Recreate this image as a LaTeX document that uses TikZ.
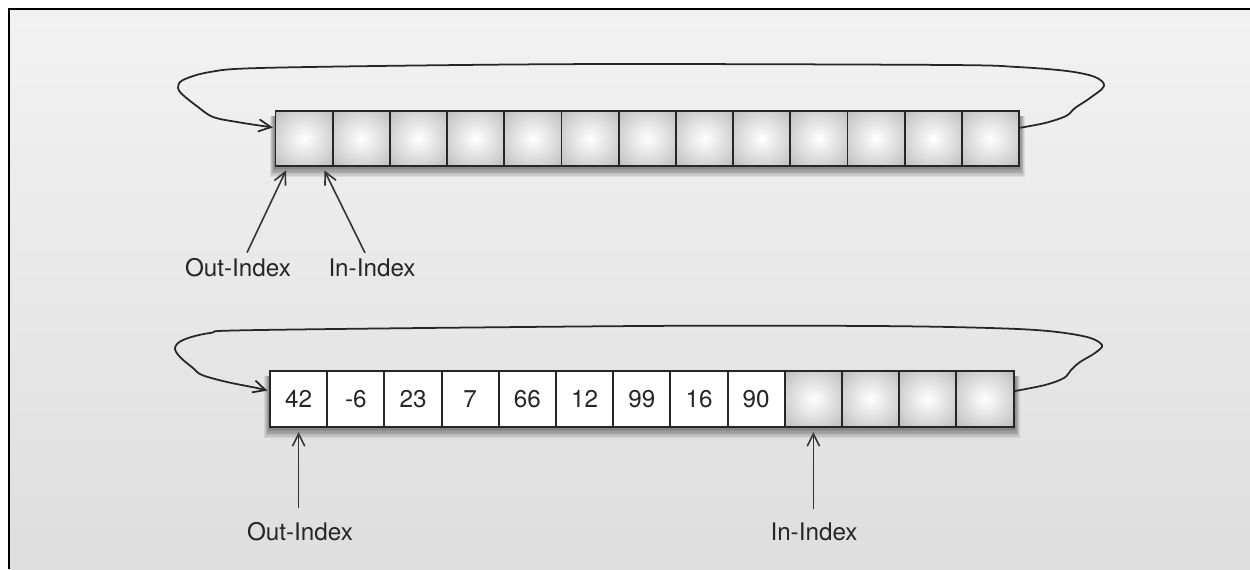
\documentclass[tikz,border=0pt]{standalone}
\usepackage{fontspec}
\setmainfont{TeX Gyre Heros}
\usetikzlibrary{arrows.meta}

\pgfdeclareradialshading{cellglow}{\pgfpoint{0bp}{0bp}}{color(0bp)=(white); color(4bp)=(white!97!black); color(25bp)=(black!18); color(50bp)=(black!38); color(72bp)=(black!50)}

\begin{document}
\begin{tikzpicture}[x=0.02cm, y=-0.02cm,
  basecell/.style={draw=black!85, line width=1.1pt, minimum width=1.144cm, minimum height=1.11cm, inner sep=0pt},
  emptycell/.style={basecell, shading=cellglow},
  fullcell/.style={basecell, fill=white, text=black!85, font=\fontsize{13.8}{16}\selectfont},
  idxlabel/.style={font=\fontsize{13.8}{16}\selectfont, text=black!85, inner sep=1pt},
  ptr/.style={draw=black!80, line width=.9pt, -{Straight Barb[length=7pt,width=7pt]}},
  loopline/.style={ptr, draw=black!85, line width=1pt}]
  \useasboundingbox (0,0) rectangle (1250,569);
  % Panel
  \fill[top color=black!5, bottom color=black!13] (9,9) rectangle (1250,569);
  \draw[line width=1.4pt] (9,569) -- (9,9) -- (1250,9);
  % Shadows
  \foreach \s in {1,...,8}{
    \fill[black, opacity=.07] (275.5-\s*.7, 116) rectangle (1019+\s*.7, 166+\s*1.4);
    \fill[black, opacity=.07] (270-\s*.7, 376) rectangle (1014+\s*.7, 427+\s*1.4);
  }
  % Empty buffer
  \foreach \i in {0,...,12}
    \node[emptycell] (cellA\i) at ({304.1+57.2*\i}, 138.5) {};
  % Filled buffer
  \foreach \v [count=\i from 0] in {42,-6,23,7,66,12,99,16,90}
    \node[fullcell] (cellB\i) at ({298.6+57.2*\i}, 399) {\v};
  \foreach \i in {9,...,12}
    \node[emptycell] (cellB\i) at ({298.6+57.2*\i}, 399) {};
  % Labels
  \node[idxlabel] (outA) at (238,268) {Out-Index};
  \node[idxlabel] (inA) at (372,268) {In-Index};
  \node[idxlabel] (outB) at (300,532) {Out-Index};
  \node[idxlabel] (inB) at (814,532) {In-Index};
  % Pointers
  \draw[ptr, shorten >=2pt] ([xshift=.18cm, yshift=.08cm]outA.north) -- (cellA0.240);
  \draw[ptr, shorten >=2pt] ([xshift=-.14cm, yshift=.08cm]inA.north) -- (cellA0.303);
  \draw[ptr, shorten <=7pt, shorten >=2.5pt] (cellB0.south |- outB.north) -- (cellB0.south);
  \draw[ptr, shorten <=7pt, shorten >=2.5pt] (cellB9.south |- inB.north) -- (cellB9.south);
  % Wrap-around
  \draw[loopline, shorten >=1pt] plot[smooth, tension=.55] coordinates {(cellA12.20) (1045,123) (1066,116) (1075,108) (1090,98) (1104,86) (1095,77) (1067,71) (1017,67) (950,65) (640,64) (460,65) (260,68) (210,72) (183,80) (178,88) (183,95) (198,107) (213,117) (237,122) (cellA0.160)};
  \draw[loopline, shorten >=1pt] plot[smooth, tension=.55] coordinates {(cellB12.15) (1045,385) (1064,378) (1071,370) (1080,362) (1095,353) (1102,345) (1087,337) (1048,331) (990,328) (873,326) (640,326) (260,330) (210,333) (183,340) (175,348) (180,357) (193,368) (202,375) (227,382) (257,388) (cellB0.165)};
\end{tikzpicture}
\end{document}
